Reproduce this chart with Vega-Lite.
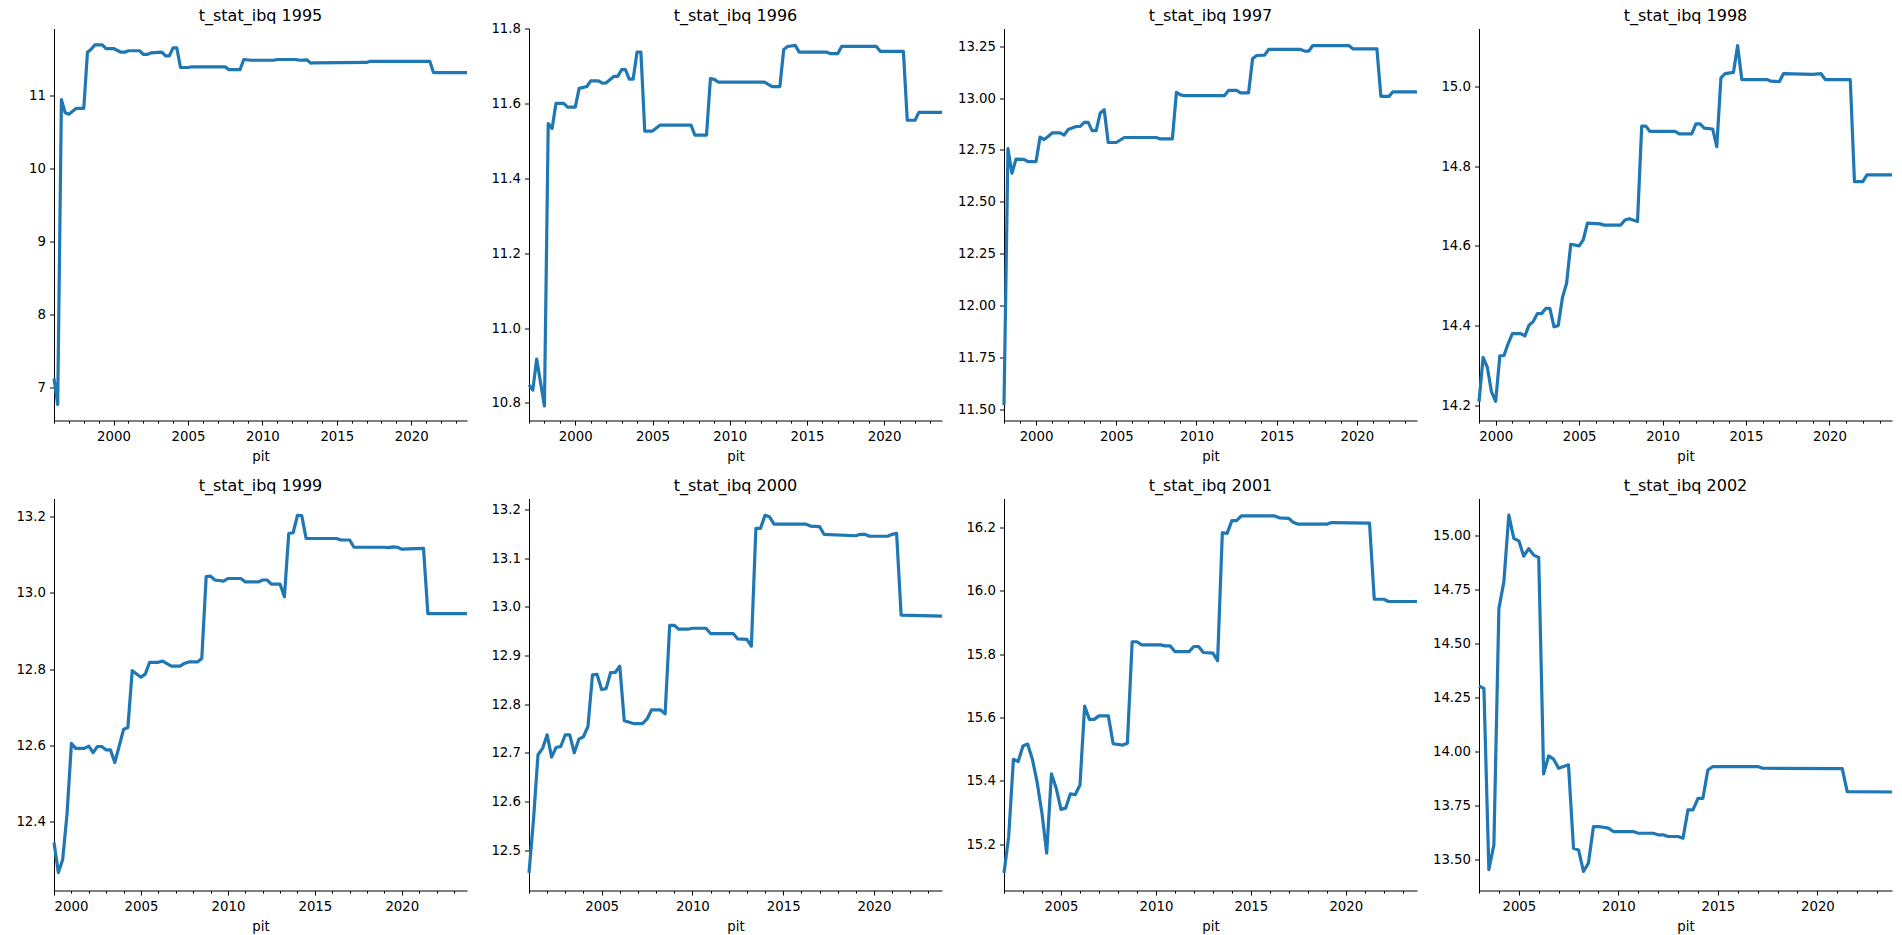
{
  "$schema": "https://vega.github.io/schema/vega-lite/v6.json",
  "padding": {"left": 15, "top": 7.5, "right": 0, "bottom": 0},
  "columns": 4,
  "spacing": {"row": 78, "column": 62},
  "bounds": "flush",
  "config": {
    "font": "DejaVu Sans",
    "view": {"stroke": null},
    "axis": {
      "grid": false, "domainColor": "#000", "domainWidth": 1, "tickColor": "#000", "tickWidth": 1,
      "labelColor": "#000", "labelFont": "DejaVu Sans", "labelFontSize": 13.3, "labelPadding": 4, "tickSize": 4.5,
      "titleFont": "DejaVu Sans", "titleFontSize": 13.3, "titleFontWeight": "normal", "titleColor": "#000", "titlePadding": 7
    },
    "title": {"font": "DejaVu Sans", "fontSize": 16, "fontWeight": "normal", "color": "#000", "anchor": "middle", "frame": "group", "offset": 4.5, "baseline": "alphabetic"},
    "line": {"color": "#1f77b4", "strokeWidth": 3.2, "strokeJoin": "round"}
  },
  "datasets": {
    "p1995": [
      {"d":"1996-01-01","v":7.13},{"d":"1996-04-01","v":6.77},{"d":"1996-07-01","v":10.95},{"d":"1996-10-01","v":10.77},
      {"d":"1997-01-01","v":10.75},{"d":"1997-04-01","v":10.79},{"d":"1997-07-01","v":10.83},{"d":"1998-01-01","v":10.83},
      {"d":"1998-04-01","v":11.60},{"d":"1998-07-01","v":11.64},{"d":"1998-10-01","v":11.70},{"d":"1999-04-01","v":11.70},
      {"d":"1999-07-01","v":11.65},{"d":"2000-01-01","v":11.65},{"d":"2000-07-01","v":11.60},{"d":"2000-10-01","v":11.60},
      {"d":"2001-01-01","v":11.62},{"d":"2001-10-01","v":11.62},{"d":"2002-01-01","v":11.57},{"d":"2002-04-01","v":11.57},
      {"d":"2002-07-01","v":11.59},{"d":"2003-04-01","v":11.60},{"d":"2003-07-01","v":11.55},{"d":"2003-10-01","v":11.55},
      {"d":"2004-01-01","v":11.66},{"d":"2004-04-01","v":11.66},{"d":"2004-07-01","v":11.39},{"d":"2005-01-01","v":11.39},
      {"d":"2005-04-01","v":11.40},{"d":"2007-07-01","v":11.40},{"d":"2007-10-01","v":11.36},{"d":"2008-07-01","v":11.36},
      {"d":"2008-10-01","v":11.50},{"d":"2009-04-01","v":11.49},{"d":"2010-10-01","v":11.49},{"d":"2011-01-01","v":11.50},
      {"d":"2012-04-01","v":11.50},{"d":"2012-07-01","v":11.49},{"d":"2013-01-01","v":11.495},{"d":"2013-04-01","v":11.45},
      {"d":"2013-07-01","v":11.455},{"d":"2017-01-01","v":11.46},{"d":"2017-04-01","v":11.475},{"d":"2021-04-01","v":11.475},
      {"d":"2021-07-01","v":11.32},{"d":"2023-10-01","v":11.32}
    ],
    "p1996": [
      {"d":"1997-01-01","v":10.848},{"d":"1997-04-01","v":10.834},{"d":"1997-07-01","v":10.917},{"d":"1998-01-01","v":10.792},
      {"d":"1998-04-01","v":11.546},{"d":"1998-07-01","v":11.533},{"d":"1998-10-01","v":11.60},{"d":"1999-04-01","v":11.60},
      {"d":"1999-07-01","v":11.59},{"d":"2000-01-01","v":11.59},{"d":"2000-04-01","v":11.64},{"d":"2000-10-01","v":11.645},
      {"d":"2001-01-01","v":11.66},{"d":"2001-07-01","v":11.66},{"d":"2001-10-01","v":11.654},{"d":"2002-01-01","v":11.655},
      {"d":"2002-07-01","v":11.672},{"d":"2002-10-01","v":11.672},{"d":"2003-01-01","v":11.69},{"d":"2003-04-01","v":11.69},
      {"d":"2003-07-01","v":11.665},{"d":"2003-10-01","v":11.665},{"d":"2004-01-01","v":11.737},{"d":"2004-04-01","v":11.737},
      {"d":"2004-07-01","v":11.526},{"d":"2005-01-01","v":11.526},{"d":"2005-07-01","v":11.542},{"d":"2007-07-01","v":11.542},
      {"d":"2007-10-01","v":11.515},{"d":"2008-07-01","v":11.515},{"d":"2008-10-01","v":11.666},{"d":"2009-01-01","v":11.664},
      {"d":"2009-04-01","v":11.657},{"d":"2012-04-01","v":11.657},{"d":"2012-10-01","v":11.645},{"d":"2013-04-01","v":11.645},
      {"d":"2013-07-01","v":11.744},{"d":"2013-10-01","v":11.752},{"d":"2014-04-01","v":11.755},{"d":"2014-07-01","v":11.737},
      {"d":"2016-04-01","v":11.737},{"d":"2016-07-01","v":11.733},{"d":"2017-01-01","v":11.733},{"d":"2017-04-01","v":11.752},
      {"d":"2019-07-01","v":11.752},{"d":"2019-10-01","v":11.739},{"d":"2021-04-01","v":11.739},{"d":"2021-07-01","v":11.555},
      {"d":"2022-01-01","v":11.555},{"d":"2022-04-01","v":11.576},{"d":"2023-10-01","v":11.576}
    ],
    "p1997": [
      {"d":"1998-01-01","v":11.52},{"d":"1998-04-01","v":12.756},{"d":"1998-07-01","v":12.638},{"d":"1998-10-01","v":12.706},
      {"d":"1999-04-01","v":12.705},{"d":"1999-07-01","v":12.694},{"d":"2000-01-01","v":12.694},{"d":"2000-04-01","v":12.812},
      {"d":"2000-07-01","v":12.80},{"d":"2000-10-01","v":12.815},{"d":"2001-01-01","v":12.832},{"d":"2001-07-01","v":12.832},
      {"d":"2001-10-01","v":12.822},{"d":"2002-01-01","v":12.848},{"d":"2002-07-01","v":12.863},{"d":"2002-10-01","v":12.863},
      {"d":"2003-01-01","v":12.883},{"d":"2003-04-01","v":12.883},{"d":"2003-07-01","v":12.843},{"d":"2003-10-01","v":12.843},
      {"d":"2004-01-01","v":12.928},{"d":"2004-04-01","v":12.944},{"d":"2004-07-01","v":12.786},{"d":"2005-01-01","v":12.786},
      {"d":"2005-07-01","v":12.81},{"d":"2007-07-01","v":12.81},{"d":"2007-10-01","v":12.803},{"d":"2008-07-01","v":12.803},
      {"d":"2008-10-01","v":13.027},{"d":"2009-01-01","v":13.015},{"d":"2009-04-01","v":13.012},{"d":"2011-10-01","v":13.012},
      {"d":"2012-01-01","v":13.037},{"d":"2012-07-01","v":13.037},{"d":"2012-10-01","v":13.025},{"d":"2013-04-01","v":13.025},
      {"d":"2013-07-01","v":13.189},{"d":"2013-10-01","v":13.205},{"d":"2014-04-01","v":13.207},{"d":"2014-07-01","v":13.234},
      {"d":"2016-07-01","v":13.234},{"d":"2016-10-01","v":13.226},{"d":"2017-01-01","v":13.226},{"d":"2017-04-01","v":13.253},
      {"d":"2019-07-01","v":13.253},{"d":"2019-10-01","v":13.237},{"d":"2021-04-01","v":13.237},{"d":"2021-07-01","v":13.008},
      {"d":"2022-01-01","v":13.008},{"d":"2022-04-01","v":13.03},{"d":"2023-10-01","v":13.03}
    ],
    "p1998": [
      {"d":"1999-01-01","v":14.209},{"d":"1999-04-01","v":14.32},{"d":"1999-07-01","v":14.296},{"d":"1999-10-01","v":14.234},
      {"d":"2000-01-01","v":14.21},{"d":"2000-04-01","v":14.324},{"d":"2000-07-01","v":14.325},{"d":"2000-10-01","v":14.355},
      {"d":"2001-01-01","v":14.38},{"d":"2001-07-01","v":14.38},{"d":"2001-10-01","v":14.374},{"d":"2002-01-01","v":14.401},
      {"d":"2002-04-01","v":14.41},{"d":"2002-07-01","v":14.43},{"d":"2002-10-01","v":14.43},{"d":"2003-01-01","v":14.443},
      {"d":"2003-04-01","v":14.443},{"d":"2003-07-01","v":14.397},{"d":"2003-10-01","v":14.40},{"d":"2004-01-01","v":14.47},
      {"d":"2004-04-01","v":14.506},{"d":"2004-07-01","v":14.604},{"d":"2005-01-01","v":14.60},{"d":"2005-04-01","v":14.615},
      {"d":"2005-07-01","v":14.657},{"d":"2006-04-01","v":14.655},{"d":"2006-07-01","v":14.652},{"d":"2007-07-01","v":14.652},
      {"d":"2007-10-01","v":14.665},{"d":"2008-01-01","v":14.668},{"d":"2008-07-01","v":14.661},{"d":"2008-10-01","v":14.90},
      {"d":"2009-01-01","v":14.90},{"d":"2009-04-01","v":14.887},{"d":"2010-10-01","v":14.887},{"d":"2011-01-01","v":14.881},
      {"d":"2011-10-01","v":14.881},{"d":"2012-01-01","v":14.906},{"d":"2012-04-01","v":14.906},{"d":"2012-07-01","v":14.895},
      {"d":"2013-01-01","v":14.893},{"d":"2013-04-01","v":14.849},{"d":"2013-07-01","v":15.021},{"d":"2013-10-01","v":15.032},
      {"d":"2014-04-01","v":15.035},{"d":"2014-07-01","v":15.102},{"d":"2014-10-01","v":15.017},{"d":"2016-04-01","v":15.017},
      {"d":"2016-07-01","v":15.013},{"d":"2017-01-01","v":15.012},{"d":"2017-04-01","v":15.032},{"d":"2019-01-01","v":15.03},
      {"d":"2019-07-01","v":15.032},{"d":"2019-10-01","v":15.017},{"d":"2021-04-01","v":15.017},{"d":"2021-07-01","v":14.761},
      {"d":"2022-01-01","v":14.761},{"d":"2022-04-01","v":14.778},{"d":"2023-10-01","v":14.778}
    ],
    "p1999": [
      {"d":"2000-01-01","v":12.345},{"d":"2000-04-01","v":12.266},{"d":"2000-07-01","v":12.30},{"d":"2000-10-01","v":12.42},
      {"d":"2001-01-01","v":12.605},{"d":"2001-04-01","v":12.592},{"d":"2001-10-01","v":12.592},{"d":"2002-01-01","v":12.598},
      {"d":"2002-04-01","v":12.581},{"d":"2002-07-01","v":12.597},{"d":"2002-10-01","v":12.597},{"d":"2003-01-01","v":12.588},
      {"d":"2003-04-01","v":12.588},{"d":"2003-07-01","v":12.555},{"d":"2003-10-01","v":12.598},{"d":"2004-01-01","v":12.642},
      {"d":"2004-04-01","v":12.647},{"d":"2004-07-01","v":12.796},{"d":"2005-01-01","v":12.779},{"d":"2005-04-01","v":12.787},
      {"d":"2005-07-01","v":12.818},{"d":"2006-01-01","v":12.818},{"d":"2006-04-01","v":12.821},{"d":"2006-10-01","v":12.808},
      {"d":"2007-04-01","v":12.808},{"d":"2007-07-01","v":12.815},{"d":"2007-10-01","v":12.819},{"d":"2008-04-01","v":12.819},
      {"d":"2008-07-01","v":12.828},{"d":"2008-10-01","v":13.043},{"d":"2009-01-01","v":13.044},{"d":"2009-04-01","v":13.034},
      {"d":"2009-10-01","v":13.031},{"d":"2010-01-01","v":13.038},{"d":"2010-10-01","v":13.038},{"d":"2011-01-01","v":13.029},
      {"d":"2011-10-01","v":13.029},{"d":"2012-01-01","v":13.034},{"d":"2012-04-01","v":13.034},{"d":"2012-07-01","v":13.023},
      {"d":"2013-01-01","v":13.023},{"d":"2013-04-01","v":12.99},{"d":"2013-07-01","v":13.156},{"d":"2013-10-01","v":13.158},
      {"d":"2014-01-01","v":13.204},{"d":"2014-04-01","v":13.203},{"d":"2014-07-01","v":13.143},{"d":"2016-04-01","v":13.143},
      {"d":"2016-07-01","v":13.139},{"d":"2017-01-01","v":13.139},{"d":"2017-04-01","v":13.12},{"d":"2019-01-01","v":13.12},
      {"d":"2019-04-01","v":13.119},{"d":"2019-07-01","v":13.121},{"d":"2019-10-01","v":13.12},{"d":"2020-01-01","v":13.115},
      {"d":"2021-04-01","v":13.117},{"d":"2021-07-01","v":12.946},{"d":"2023-10-01","v":12.946}
    ],
    "p2000": [
      {"d":"2001-01-01","v":12.453},{"d":"2001-04-01","v":12.562},{"d":"2001-07-01","v":12.696},{"d":"2001-10-01","v":12.709},
      {"d":"2002-01-01","v":12.737},{"d":"2002-04-01","v":12.691},{"d":"2002-07-01","v":12.711},{"d":"2002-10-01","v":12.713},
      {"d":"2003-01-01","v":12.737},{"d":"2003-04-01","v":12.737},{"d":"2003-07-01","v":12.70},{"d":"2003-10-01","v":12.728},
      {"d":"2004-01-01","v":12.733},{"d":"2004-04-01","v":12.754},{"d":"2004-07-01","v":12.86},{"d":"2004-10-01","v":12.861},
      {"d":"2005-01-01","v":12.83},{"d":"2005-04-01","v":12.832},{"d":"2005-07-01","v":12.865},{"d":"2005-10-01","v":12.865},
      {"d":"2006-01-01","v":12.878},{"d":"2006-04-01","v":12.766},{"d":"2006-10-01","v":12.76},{"d":"2007-04-01","v":12.76},
      {"d":"2007-07-01","v":12.769},{"d":"2007-10-01","v":12.788},{"d":"2008-04-01","v":12.788},{"d":"2008-07-01","v":12.78},
      {"d":"2008-10-01","v":12.962},{"d":"2009-01-01","v":12.962},{"d":"2009-04-01","v":12.954},{"d":"2009-10-01","v":12.954},
      {"d":"2010-01-01","v":12.956},{"d":"2010-10-01","v":12.956},{"d":"2011-01-01","v":12.945},{"d":"2012-04-01","v":12.945},
      {"d":"2012-07-01","v":12.934},{"d":"2013-01-01","v":12.933},{"d":"2013-04-01","v":12.919},{"d":"2013-07-01","v":13.161},
      {"d":"2013-10-01","v":13.161},{"d":"2014-01-01","v":13.188},{"d":"2014-04-01","v":13.185},{"d":"2014-07-01","v":13.17},
      {"d":"2016-04-01","v":13.17},{"d":"2016-07-01","v":13.166},{"d":"2017-01-01","v":13.165},{"d":"2017-04-01","v":13.149},
      {"d":"2019-01-01","v":13.146},{"d":"2019-04-01","v":13.149},{"d":"2019-07-01","v":13.149},{"d":"2019-10-01","v":13.145},
      {"d":"2020-10-01","v":13.145},{"d":"2021-01-01","v":13.149},{"d":"2021-04-01","v":13.151},{"d":"2021-07-01","v":12.983},
      {"d":"2023-10-01","v":12.981}
    ],
    "p2001": [
      {"d":"2002-01-01","v":15.109},{"d":"2002-04-01","v":15.224},{"d":"2002-07-01","v":15.468},{"d":"2002-10-01","v":15.461},
      {"d":"2003-01-01","v":15.51},{"d":"2003-04-01","v":15.516},{"d":"2003-07-01","v":15.468},{"d":"2003-10-01","v":15.395},
      {"d":"2004-01-01","v":15.298},{"d":"2004-04-01","v":15.172},{"d":"2004-07-01","v":15.422},{"d":"2004-10-01","v":15.377},
      {"d":"2005-01-01","v":15.31},{"d":"2005-04-01","v":15.314},{"d":"2005-07-01","v":15.359},{"d":"2005-10-01","v":15.356},
      {"d":"2006-01-01","v":15.387},{"d":"2006-04-01","v":15.636},{"d":"2006-07-01","v":15.594},{"d":"2006-10-01","v":15.594},
      {"d":"2007-01-01","v":15.605},{"d":"2007-07-01","v":15.605},{"d":"2007-10-01","v":15.517},{"d":"2008-04-01","v":15.513},
      {"d":"2008-07-01","v":15.519},{"d":"2008-10-01","v":15.839},{"d":"2009-01-01","v":15.839},{"d":"2009-04-01","v":15.829},
      {"d":"2010-04-01","v":15.829},{"d":"2010-07-01","v":15.826},{"d":"2010-10-01","v":15.826},{"d":"2011-01-01","v":15.808},
      {"d":"2011-10-01","v":15.808},{"d":"2012-01-01","v":15.824},{"d":"2012-04-01","v":15.824},{"d":"2012-07-01","v":15.805},
      {"d":"2013-01-01","v":15.803},{"d":"2013-04-01","v":15.779},{"d":"2013-07-01","v":16.183},{"d":"2013-10-01","v":16.181},
      {"d":"2014-01-01","v":16.221},{"d":"2014-04-01","v":16.221},{"d":"2014-07-01","v":16.236},{"d":"2016-04-01","v":16.236},
      {"d":"2016-07-01","v":16.23},{"d":"2017-01-01","v":16.228},{"d":"2017-04-01","v":16.215},{"d":"2017-07-01","v":16.21},
      {"d":"2019-01-01","v":16.21},{"d":"2019-04-01","v":16.215},{"d":"2021-04-01","v":16.213},{"d":"2021-07-01","v":15.973},
      {"d":"2022-01-01","v":15.973},{"d":"2022-04-01","v":15.966},{"d":"2023-10-01","v":15.966}
    ],
    "p2002": [
      {"d":"2003-01-01","v":14.305},{"d":"2003-04-01","v":14.294},{"d":"2003-07-01","v":13.454},{"d":"2003-10-01","v":13.569},
      {"d":"2004-01-01","v":14.664},{"d":"2004-04-01","v":14.787},{"d":"2004-07-01","v":15.096},{"d":"2004-10-01","v":14.988},
      {"d":"2005-01-01","v":14.977},{"d":"2005-04-01","v":14.906},{"d":"2005-07-01","v":14.941},{"d":"2005-10-01","v":14.911},
      {"d":"2006-01-01","v":14.90},{"d":"2006-04-01","v":13.898},{"d":"2006-07-01","v":13.981},{"d":"2006-10-01","v":13.966},
      {"d":"2007-01-01","v":13.924},{"d":"2007-04-01","v":13.932},{"d":"2007-07-01","v":13.94},{"d":"2007-10-01","v":13.554},
      {"d":"2008-01-01","v":13.546},{"d":"2008-04-01","v":13.446},{"d":"2008-07-01","v":13.485},{"d":"2008-10-01","v":13.654},
      {"d":"2009-01-01","v":13.654},{"d":"2009-04-01","v":13.651},{"d":"2009-07-01","v":13.647},{"d":"2009-10-01","v":13.631},
      {"d":"2010-10-01","v":13.631},{"d":"2011-01-01","v":13.623},{"d":"2011-10-01","v":13.623},{"d":"2012-01-01","v":13.616},
      {"d":"2012-04-01","v":13.616},{"d":"2012-07-01","v":13.608},{"d":"2013-01-01","v":13.608},{"d":"2013-04-01","v":13.60},
      {"d":"2013-07-01","v":13.731},{"d":"2013-10-01","v":13.731},{"d":"2014-01-01","v":13.785},{"d":"2014-04-01","v":13.785},
      {"d":"2014-07-01","v":13.916},{"d":"2014-10-01","v":13.932},{"d":"2017-01-01","v":13.932},{"d":"2017-04-01","v":13.924},
      {"d":"2021-04-01","v":13.922},{"d":"2021-07-01","v":13.816},{"d":"2023-10-01","v":13.814}
    ]
  },
  "concat": [
    {
      "title": "t_stat_ibq 1995", "width": 413, "height": 392, "data": {"name": "p1995"}, "mark": "line",
      "encoding": {
        "x": {"field": "d", "type": "temporal", "scale": {"type": "utc", "domain": [{"year": 1996, "month": 1, "date": 1, "utc": true}, {"year": 2023, "month": 10, "date": 1, "utc": true}]},
              "axis": {"title": "pit", "tickCount": {"interval": "year", "step": 1}, "labelOverlap": false, "labelExpr": "utcyear(datum.value) % 5 === 0 ? utcFormat(datum.value, '%Y') : ''", "tickSize": {"condition": {"test": "utcyear(datum.value) % 5 === 0", "value": 4.5}, "value": 2.6}}},
        "y": {"field": "v", "type": "quantitative", "scale": {"domain": [6.55, 11.925], "zero": false, "nice": false}, "axis": {"title": null, "values": [7, 8, 9, 10, 11], "format": "d"}}
      }
    },
    {
      "title": {"text": "t_stat_ibq 1996", "offset": -2.1}, "width": 413, "height": 392, "data": {"name": "p1996"}, "mark": "line",
      "encoding": {
        "x": {"field": "d", "type": "temporal", "scale": {"type": "utc", "domain": [{"year": 1997, "month": 1, "date": 1, "utc": true}, {"year": 2023, "month": 10, "date": 1, "utc": true}]},
              "axis": {"title": "pit", "tickCount": {"interval": "year", "step": 1}, "labelOverlap": false, "labelExpr": "utcyear(datum.value) % 5 === 0 ? utcFormat(datum.value, '%Y') : ''", "tickSize": {"condition": {"test": "utcyear(datum.value) % 5 === 0", "value": 4.5}, "value": 2.6}}},
        "y": {"field": "v", "type": "quantitative", "scale": {"domain": [10.753, 11.8], "zero": false, "nice": false}, "axis": {"title": null, "values": [10.8, 11.0, 11.2, 11.4, 11.6, 11.8], "format": ".1f"}}
      }
    },
    {
      "title": "t_stat_ibq 1997", "width": 413, "height": 392, "data": {"name": "p1997"}, "mark": "line",
      "encoding": {
        "x": {"field": "d", "type": "temporal", "scale": {"type": "utc", "domain": [{"year": 1998, "month": 1, "date": 1, "utc": true}, {"year": 2023, "month": 10, "date": 1, "utc": true}]},
              "axis": {"title": "pit", "tickCount": {"interval": "year", "step": 1}, "labelOverlap": false, "labelExpr": "utcyear(datum.value) % 5 === 0 ? utcFormat(datum.value, '%Y') : ''", "tickSize": {"condition": {"test": "utcyear(datum.value) % 5 === 0", "value": 4.5}, "value": 2.6}}},
        "y": {"field": "v", "type": "quantitative", "scale": {"domain": [11.447, 13.335], "zero": false, "nice": false}, "axis": {"title": null, "values": [11.5, 11.75, 12.0, 12.25, 12.5, 12.75, 13.0, 13.25], "format": ".2f"}}
      }
    },
    {
      "title": "t_stat_ibq 1998", "width": 413, "height": 392, "data": {"name": "p1998"}, "mark": "line",
      "encoding": {
        "x": {"field": "d", "type": "temporal", "scale": {"type": "utc", "domain": [{"year": 1999, "month": 1, "date": 1, "utc": true}, {"year": 2023, "month": 10, "date": 1, "utc": true}]},
              "axis": {"title": "pit", "tickCount": {"interval": "year", "step": 1}, "labelOverlap": false, "labelExpr": "utcyear(datum.value) % 5 === 0 ? utcFormat(datum.value, '%Y') : ''", "tickSize": {"condition": {"test": "utcyear(datum.value) % 5 === 0", "value": 4.5}, "value": 2.6}}},
        "y": {"field": "v", "type": "quantitative", "scale": {"domain": [14.162, 15.145], "zero": false, "nice": false}, "axis": {"title": null, "values": [14.2, 14.4, 14.6, 14.8, 15.0], "format": ".1f"}}
      }
    },
    {
      "title": "t_stat_ibq 1999", "width": 413, "height": 392, "data": {"name": "p1999"}, "mark": "line",
      "encoding": {
        "x": {"field": "d", "type": "temporal", "scale": {"type": "utc", "domain": [{"year": 2000, "month": 1, "date": 1, "utc": true}, {"year": 2023, "month": 10, "date": 1, "utc": true}]},
              "axis": {"title": "pit", "tickCount": {"interval": "year", "step": 1}, "labelOverlap": false, "labelExpr": "utcyear(datum.value) % 5 === 0 ? utcFormat(datum.value, '%Y') : ''", "tickSize": {"condition": {"test": "utcyear(datum.value) % 5 === 0", "value": 4.5}, "value": 2.6}}},
        "y": {"field": "v", "type": "quantitative", "scale": {"domain": [12.219, 13.248], "zero": false, "nice": false}, "axis": {"title": null, "values": [12.4, 12.6, 12.8, 13.0, 13.2], "format": ".1f"}}
      }
    },
    {
      "title": "t_stat_ibq 2000", "width": 413, "height": 392, "data": {"name": "p2000"}, "mark": "line",
      "encoding": {
        "x": {"field": "d", "type": "temporal", "scale": {"type": "utc", "domain": [{"year": 2001, "month": 1, "date": 1, "utc": true}, {"year": 2023, "month": 10, "date": 1, "utc": true}]},
              "axis": {"title": "pit", "tickCount": {"interval": "year", "step": 1}, "labelOverlap": false, "labelExpr": "utcyear(datum.value) % 5 === 0 ? utcFormat(datum.value, '%Y') : ''", "tickSize": {"condition": {"test": "utcyear(datum.value) % 5 === 0", "value": 4.5}, "value": 2.6}}},
        "y": {"field": "v", "type": "quantitative", "scale": {"domain": [12.417, 13.2226], "zero": false, "nice": false}, "axis": {"title": null, "values": [12.5, 12.6, 12.7, 12.8, 12.9, 13.0, 13.1, 13.2], "format": ".1f"}}
      }
    },
    {
      "title": "t_stat_ibq 2001", "width": 413, "height": 392, "data": {"name": "p2001"}, "mark": "line",
      "encoding": {
        "x": {"field": "d", "type": "temporal", "scale": {"type": "utc", "domain": [{"year": 2002, "month": 1, "date": 1, "utc": true}, {"year": 2023, "month": 10, "date": 1, "utc": true}]},
              "axis": {"title": "pit", "tickCount": {"interval": "year", "step": 1}, "labelOverlap": false, "labelExpr": "utcyear(datum.value) % 5 === 0 ? utcFormat(datum.value, '%Y') : ''", "tickSize": {"condition": {"test": "utcyear(datum.value) % 5 === 0", "value": 4.5}, "value": 2.6}}},
        "y": {"field": "v", "type": "quantitative", "scale": {"domain": [15.054, 16.291], "zero": false, "nice": false}, "axis": {"title": null, "values": [15.2, 15.4, 15.6, 15.8, 16.0, 16.2], "format": ".1f"}}
      }
    },
    {
      "title": "t_stat_ibq 2002", "width": 413, "height": 392, "data": {"name": "p2002"}, "mark": "line",
      "encoding": {
        "x": {"field": "d", "type": "temporal", "scale": {"type": "utc", "domain": [{"year": 2003, "month": 1, "date": 1, "utc": true}, {"year": 2023, "month": 10, "date": 1, "utc": true}]},
              "axis": {"title": "pit", "tickCount": {"interval": "year", "step": 1}, "labelOverlap": false, "labelExpr": "utcyear(datum.value) % 5 === 0 ? utcFormat(datum.value, '%Y') : ''", "tickSize": {"condition": {"test": "utcyear(datum.value) % 5 === 0", "value": 4.5}, "value": 2.6}}},
        "y": {"field": "v", "type": "quantitative", "scale": {"domain": [13.358, 15.173], "zero": false, "nice": false}, "axis": {"title": null, "values": [13.5, 13.75, 14.0, 14.25, 14.5, 14.75, 15.0], "format": ".2f"}}
      }
    }
  ]
}
